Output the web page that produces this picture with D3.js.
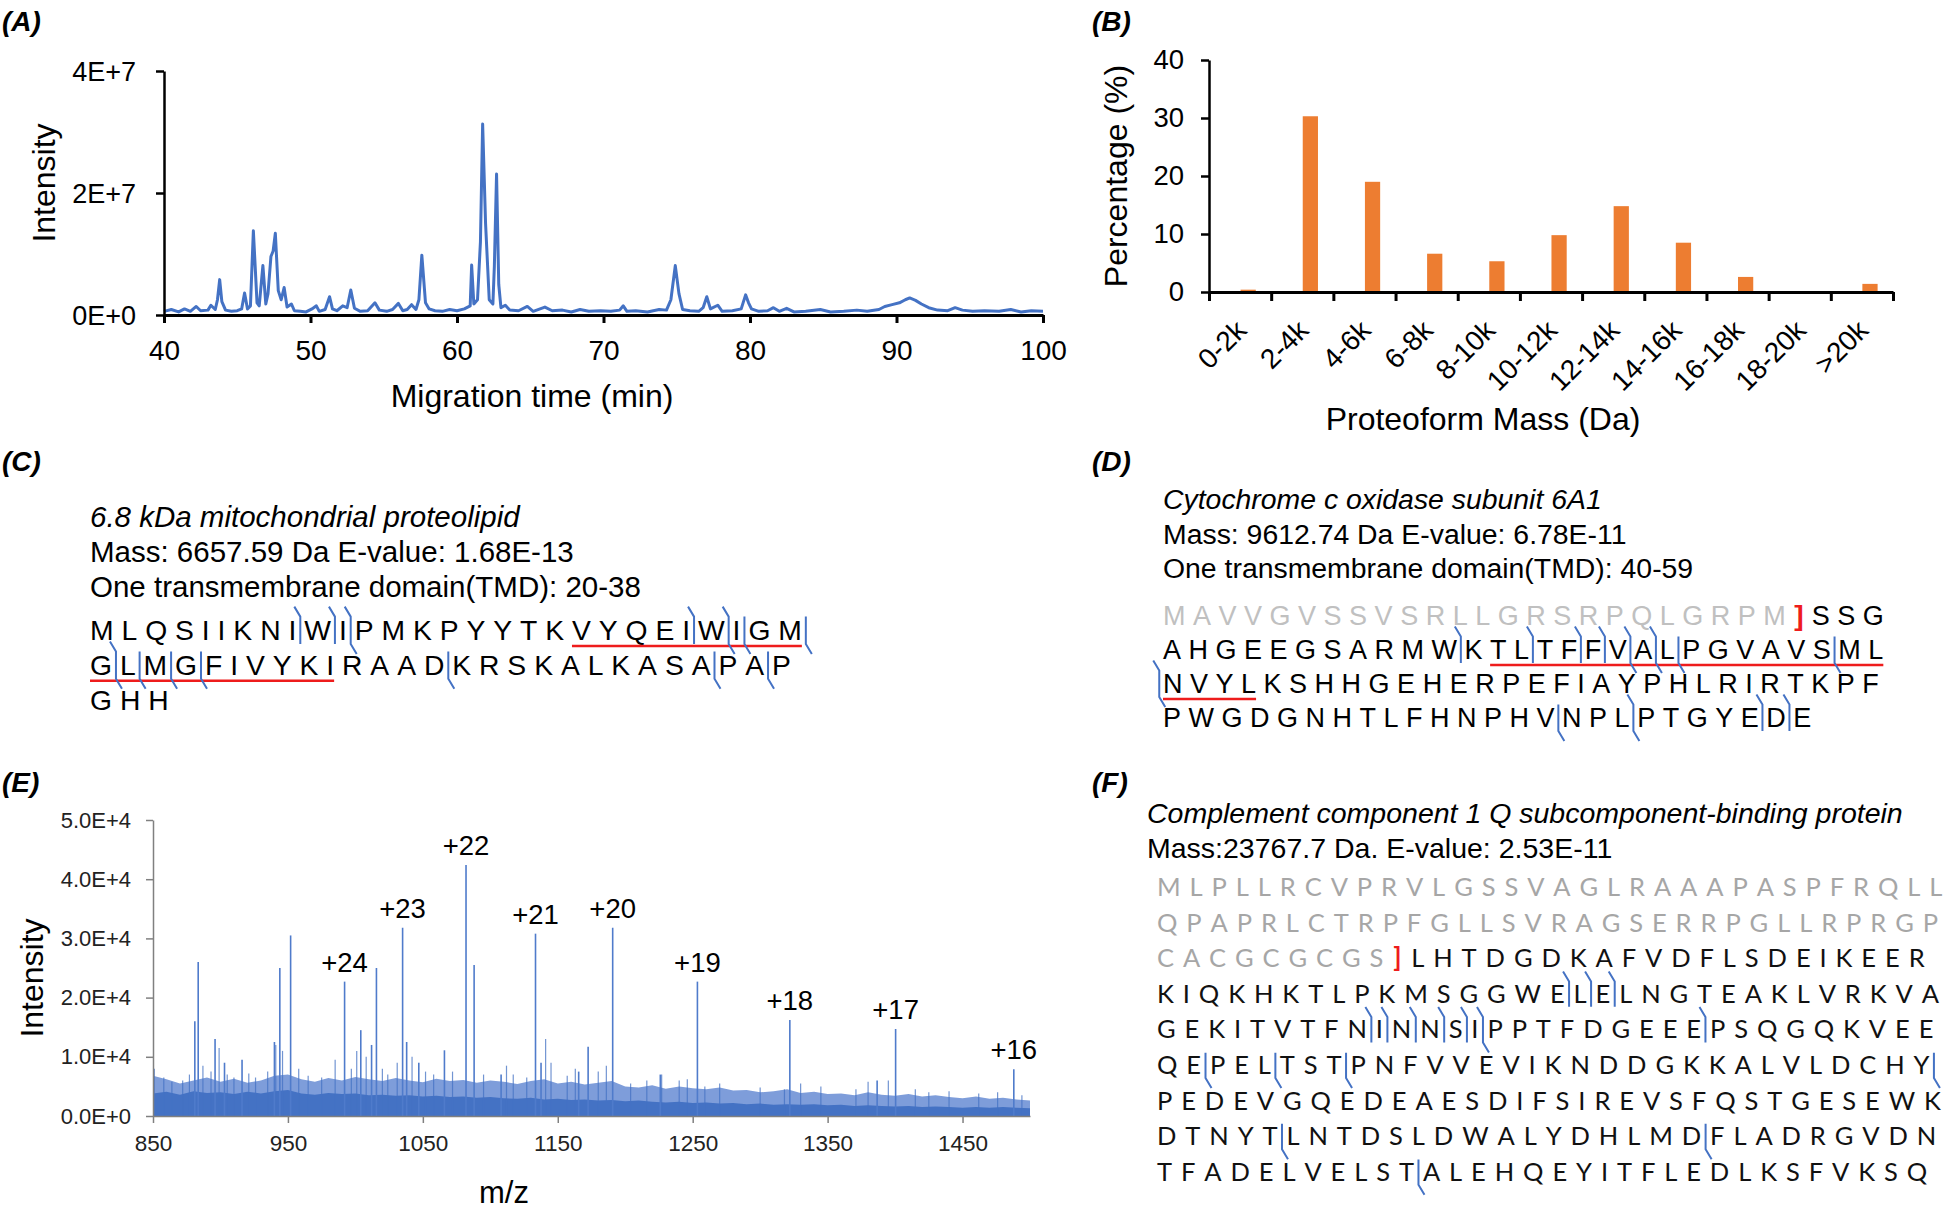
<!DOCTYPE html>
<html><head><meta charset="utf-8">
<script src="https://cdn.jsdelivr.net/npm/d3@7"></script>
<style>body{margin:0;background:#fff}svg{display:block}</style>
</head><body><svg id="c" width="1950" height="1212"></svg>
<script>
// ---------------- DATA ----------------
// (A) electropherogram: [migration time (min), intensity (x1e6)]
const aTrace = [[40,0.6],[40.5,0.9],[41,0.5],[41.4,1.0],[41.8,0.6],[42.2,1.4],[42.5,0.7],[43,0.8],[43.2,1.6],[43.5,0.9],[43.65,2.5],[43.8,5.8],[43.95,2.2],[44.2,0.8],[44.6,0.6],[45,0.7],[45.3,1.0],[45.5,3.6],[45.7,1.0],[45.9,1.5],[46.1,13.8],[46.35,2.0],[46.5,1.5],[46.75,8.1],[46.95,1.8],[47.1,3.5],[47.3,9.6],[47.45,10.5],[47.6,13.4],[47.8,4.0],[48.0,2.5],[48.2,4.5],[48.4,1.3],[48.7,1.8],[48.9,0.7],[49.3,0.6],[49.7,0.5],[50.1,1.0],[50.4,1.5],[50.6,0.6],[51,0.9],[51.3,3.0],[51.5,1.0],[51.8,0.7],[52.2,1.5],[52.5,1.2],[52.75,4.1],[53,1.1],[53.4,0.6],[53.9,0.7],[54.4,2.0],[54.7,0.8],[55.2,0.6],[55.6,0.9],[56,1.9],[56.3,0.7],[56.6,0.9],[56.9,1.7],[57.2,0.9],[57.4,2.5],[57.6,9.8],[57.85,2.0],[58.1,1.0],[58.5,0.7],[59,0.6],[59.5,0.9],[60,0.7],[60.5,1.0],[60.9,1.5],[61.0,8.2],[61.15,1.8],[61.4,2.5],[61.6,12],[61.75,31.3],[61.95,15],[62.2,2.5],[62.45,1.8],[62.55,8],[62.7,23.1],[62.85,5],[63.0,1.2],[63.3,1.6],[63.6,0.8],[64.2,0.7],[64.8,1.4],[65.2,0.6],[66,1.3],[66.5,0.7],[67.2,0.8],[67.8,0.5],[68.4,0.9],[69,0.6],[69.8,0.7],[70.5,0.6],[71.1,0.8],[71.35,1.5],[71.6,0.6],[72.2,0.7],[73,0.5],[73.8,0.9],[74.3,0.8],[74.6,2.5],[74.9,8.1],[75.15,3.5],[75.4,0.9],[75.9,0.7],[76.5,0.6],[76.8,1.2],[77.05,3.0],[77.3,1.0],[77.8,1.6],[78.1,0.6],[78.8,0.7],[79.4,1.0],[79.7,3.3],[79.9,2.0],[80.1,1.0],[80.6,0.6],[81.2,0.7],[81.6,1.2],[82,0.6],[82.5,1.1],[83,0.5],[83.8,0.6],[84.8,0.9],[85.5,0.5],[86.4,0.6],[87.3,0.8],[88,0.6],[88.8,0.9],[89.2,1.4],[89.7,1.7],[90.2,2.0],[90.6,2.5],[90.9,2.8],[91.3,2.4],[91.7,1.8],[92.2,1.2],[92.8,0.8],[93.5,0.7],[94,1.2],[94.5,0.8],[95.2,0.6],[96,0.7],[97,0.6],[97.8,0.9],[98.5,0.5],[99.2,0.7],[100,0.6]];
const aXTicks = [40,50,60,70,80,90,100];
const aYTicks = [0,2e7,4e7];
const aYLabels = ["0E+0","2E+7","4E+7"];

// (B) mass distribution
const massBins = ["0-2k","2-4k","4-6k","6-8k","8-10k","10-12k","12-14k","14-16k","16-18k","18-20k",">20k"];
const binPercent = [0.4,30.3,19.0,6.6,5.3,9.8,14.8,8.5,2.6,0,1.4];
const bYTicks = [0,10,20,30,40];

// (E) mass spectrum
const peakMz  = [881,883.5,896,903,916,940,944,952,992,1004,1012,1015.6,1035,1038,1047,1066,1082,1088,1108,1133.5,1137.6,1165.5,1172.5,1190.7,1226,1253.5,1322,1386.7,1400.4,1488];
const peakInt = [16000,26000,13000,9000,9500,12500,25000,30500,22700,14500,12000,25000,31800,12500,9000,11100,42400,25500,7000,30800,9000,7500,11700,31800,7000,22700,16200,6000,14700,7900];
const minorMz  = [851,858,864,872,877,887,893,899,905,910,921,926,935,941,946,958,965,975,985,997,1001,1008,1020,1024,1031,1042,1052,1058,1072,1095,1112,1117,1127,1141,1145,1157,1163,1180,1186,1204,1216,1227,1240,1246,1259,1270,1300,1318,1330,1345,1371,1380,1395,1415,1425,1440,1462,1476,1494];
const minorInt = [8000,6500,5800,6000,7000,8500,7500,11500,7000,6500,7200,6500,7500,12000,11000,8000,6800,6500,9500,8000,11000,10000,8000,7000,9000,10000,7500,7000,7500,7000,8500,7000,6500,13000,9000,6800,8000,7500,8500,5500,6000,7000,6000,6200,5000,5500,4800,4500,5500,5000,4500,5800,6000,4500,4000,4200,3800,4000,3500];
const noiseMz   = [850,860,870,880,890,900,910,920,930,940,950,960,970,980,990,1000,1010,1020,1030,1040,1050,1060,1070,1080,1090,1100,1110,1120,1130,1140,1150,1160,1170,1180,1190,1200,1210,1220,1230,1240,1250,1260,1270,1280,1290,1300,1310,1320,1330,1340,1350,1360,1370,1380,1390,1400,1410,1420,1430,1440,1450,1460,1470,1480,1490,1500];
const noiseTip  = [6.8,6.2,5.5,6.0,6.5,5.8,6.3,5.6,6.0,6.8,7.0,6.2,5.8,6.4,6.0,6.6,6.2,5.9,6.4,6.0,5.7,6.3,5.9,6.1,5.6,6.0,5.8,5.4,5.9,6.2,5.5,5.8,5.3,5.6,5.9,5.0,4.8,5.2,4.6,5.0,4.7,4.5,4.8,4.3,4.4,4.0,4.2,4.5,3.9,4.1,3.7,3.8,3.5,4.0,3.6,3.4,3.7,3.3,3.5,3.2,3.0,3.3,2.9,3.1,2.8,2.6];
const noiseCore = [3.8,4.1,3.6,4.2,3.9,4.0,3.7,4.1,3.8,4.2,4.4,3.8,3.6,3.9,3.7,3.8,3.5,3.6,3.4,3.5,3.3,3.4,3.2,3.3,3.1,3.2,3.0,2.9,3.1,2.8,2.9,2.7,2.8,2.6,2.7,2.5,2.6,2.4,2.3,2.4,2.2,2.3,2.1,2.2,2.0,2.1,1.9,2.0,1.9,2.0,1.8,1.9,1.7,1.8,1.7,1.6,1.7,1.5,1.6,1.5,1.4,1.5,1.4,1.5,1.4,1.3];
const chargeLabels = ["+24","+23","+22","+21","+20","+19","+18","+17","+16"];
const chargeMz     = [992,1035,1082,1133.5,1190.7,1253.5,1322,1400.4,1488];
const eXTicks = [850,950,1050,1150,1250,1350,1450];
const eYTicks = [0,1e4,2e4,3e4,4e4,5e4];
const eYLabels = ["0.0E+0","1.0E+4","2.0E+4","3.0E+4","4.0E+4","5.0E+4"];

// (C) sequence
const cHeader = ["6.8 kDa mitochondrial proteolipid","Mass: 6657.59 Da E-value: 1.68E-13","One transmembrane domain(TMD): 20-38"];
const cSeq = ["MLQSIIKNIWIPMKPYYTKVYQEIWIGM","GLMGFIVYKIRAADKRSKALKASAPAP","GHH"];
const cGray = [0,0,0];
const cMarks = [[0,8,"t"],[0,9,"t"],[0,10,"tb"],[0,23,"t"],[0,24,"tb"],[0,25,"b"],[0,27,"b"],[1,0,"tb"],[1,1,"b"],[1,2,"b"],[1,3,"b"],[1,13,"b"],[1,23,"b"],[1,25,"b"]];
const cTMD = [[0,19,27],[1,0,9]];

// (D) sequence
const dHeader = ["Cytochrome c oxidase subunit 6A1","Mass: 9612.74 Da E-value: 6.78E-11","One transmembrane domain(TMD): 40-59"];
const dSeq = ["MAVVGVSSVSRLLGRSRPQLGRPM]SSG","AHGEEGSARMWKTLTFFVALPGVAVSML","NVYLKSHHGEHERPEFIAYPHLRIRTKPF","PWGDGNHTLFHNPHVNPLPTGYEDE"];
const dGray = [24,0,0,0];
const dMarks = [[1,10,"t"],[1,13,"t"],[1,15,"t"],[1,16,"t"],[1,17,"tb"],[1,18,"tb"],[1,19,"b"],[1,25,"b"],[2,-1,"tb"],[3,14,"b"],[3,17,"tb"],[3,22,"t"],[3,23,"t"]];
const dTMD = [[1,12,27],[2,0,3]];

// (F) sequence
const fHeader = ["Complement component 1 Q subcomponent-binding protein","Mass:23767.7 Da. E-value: 2.53E-11"];
const fSeq = ["MLPLLRCVPRVLGSSVAGLRAAAPASPFRQLL","QPAPRLCTRPFGLLSVRAGSERRPGLLRPRGP","CACGCGCGS]LHTDGDKAFVDFLSDEIKEER","KIQKHKTLPKMSGGWELELNGTEAKLVRKVA","GEKITVTFNINNSIPPTFDGEEEPSQGQKVEE","QEPELTSTPNFVVEVIKNDDGKKALVLDCHY","PEDEVGQEDEAESDIFSIREVSFQSTGESEWK","DTNYTLNTDSLDWALYDHLMDFLADRGVDN","TFADELVELSTALEHQEYITFLEDLKSFVKSQ"];
const fGray = [32,32,9,0,0,0,0,0,0];
const fMarks = [[3,15,"t"],[3,16,"t"],[3,17,"t"],[4,8,"t"],[4,9,"t"],[4,10,"t"],[4,11,"t"],[4,12,"t"],[4,13,"tb"],[4,22,"t"],[5,1,"b"],[5,4,"b"],[5,7,"b"],[5,30,"b"],[7,4,"b"],[7,20,"b"],[8,10,"b"]];
const fTMD = [];

// ---------------- DRAW ----------------
const ARIAL = '"Liberation Sans", Arial, Helvetica, sans-serif';
const BLUE = "#4472C4", ORANGE = "#ED7D31", RED = "#EE1C1C";
const svg = d3.select("#c");
svg.append("rect").attr("width",1950).attr("height",1212).attr("fill","#fff");

function styleAxis(g, color, width, size, fill){
  g.select(".domain").attr("stroke",color).attr("stroke-width",width);
  g.selectAll(".tick line").attr("stroke",color).attr("stroke-width",width);
  g.selectAll(".tick text").attr("font-family",ARIAL).attr("font-size",size).attr("fill",fill);
}
function label(txt,x,y,size,opts={}){
  const t = svg.append("text").attr("x",x).attr("y",y).attr("font-family",opts.family||ARIAL)
    .attr("font-size",size).attr("fill",opts.fill||"#000").text(txt);
  if(opts.italic) t.attr("font-style","italic");
  if(opts.bold) t.attr("font-weight","bold");
  if(opts.anchor) t.attr("text-anchor",opts.anchor);
  if(opts.rotate) t.attr("transform",`rotate(-90,${x},${y})`);
  return t;
}

// panel letters
[["(A)",2,31],["(B)",1092,31],["(C)",2,471],["(D)",1092,471],["(E)",2,792],["(F)",1092,792]]
  .forEach(p=>label(p[0],p[1],p[2],28,{italic:true,bold:true}));

// ----- (A)
{
  const x = d3.scaleLinear().domain([40,100]).range([164,1043]);
  const y = d3.scaleLinear().domain([0,4e7]).range([315,71]);
  svg.append("path").datum(aTrace)
    .attr("d",d3.line().x(d=>x(d[0])).y(d=>y(d[1]*1e6)))
    .attr("fill","none").attr("stroke",BLUE).attr("stroke-width",3).attr("stroke-linejoin","round");
  const gx = svg.append("g").attr("transform","translate(0,315)")
    .call(d3.axisBottom(x).tickValues(aXTicks).tickFormat(d3.format("d")).tickSize(8).tickSizeOuter(0).tickPadding(17));
  styleAxis(gx,"#000",3,28,"#000");
  const gy = svg.append("g").attr("transform","translate(164,0)")
    .call(d3.axisLeft(y).tickValues(aYTicks).tickFormat((d,i)=>aYLabels[i]).tickSize(8).tickSizeOuter(0).tickPadding(20));
  styleAxis(gy,"#000",2.5,27,"#000");
  gy.selectAll(".tick text").attr("dy","0.36em");
  label("Migration time (min)",532,407,32,{anchor:"middle"});
  label("Intensity",55,183,32,{anchor:"middle",rotate:true});
}

// ----- (B)
{
  const x = d3.scaleBand().domain(massBins).range([1209,1893]);
  const xi = d3.scaleLinear().domain([0,massBins.length]).range([1209,1893]);
  const y = d3.scaleLinear().domain([0,40]).range([292,60]);
  const bw = x.bandwidth()*0.245;
  svg.append("g").selectAll("rect").data(massBins).join("rect")
    .attr("x",d=>x(d)+x.bandwidth()*0.63-bw/2).attr("width",bw)
    .attr("y",(d,i)=>y(binPercent[i])).attr("height",(d,i)=>y(0)-y(binPercent[i]))
    .attr("fill",ORANGE);
  const gx = svg.append("g").attr("transform","translate(0,292)")
    .call(d3.axisBottom(xi).tickValues(d3.range(massBins.length+1)).tickFormat("").tickSize(9).tickSizeOuter(0));
  styleAxis(gx,"#000",3,26,"#000");
  const gy = svg.append("g").attr("transform","translate(1209,0)")
    .call(d3.axisLeft(y).tickValues(bYTicks).tickSize(8).tickSizeOuter(0).tickPadding(17));
  styleAxis(gy,"#000",2.5,27.5,"#000");
  svg.append("g").selectAll("text").data(massBins).join("text")
    .attr("transform",d=>`translate(${x(d)+x.bandwidth()/2+8},${332}) rotate(-45)`)
    .attr("text-anchor","end").attr("font-family",ARIAL).attr("font-size",28).text(d=>d);
  label("Proteoform Mass (Da)",1483,430,32,{anchor:"middle"});
  label("Percentage (%)",1127,176,32,{anchor:"middle",rotate:true});
}

// ----- (E)
{
  const x = d3.scaleLinear().domain([850,1500]).range([153,1030]);
  const y = d3.scaleLinear().domain([0,5e4]).range([1116,820]);
  svg.append("path").datum(noiseMz)
    .attr("d",d3.area().x(d=>x(d)).y0(y(0)).y1((d,i)=>y(noiseTip[i]*1000)))
    .attr("fill","#7E9DDA");
  svg.append("path").datum(noiseMz)
    .attr("d",d3.area().x(d=>x(d)).y0(y(0)).y1((d,i)=>y(noiseCore[i]*1000)))
    .attr("fill",BLUE);
  svg.append("g").selectAll("line").data(minorMz).join("line")
    .attr("x1",d=>x(d)).attr("x2",d=>x(d)).attr("y1",y(0)).attr("y2",(d,i)=>y(minorInt[i]))
    .attr("stroke",BLUE).attr("stroke-width",1.2).attr("opacity",0.75);
  svg.append("g").selectAll("line").data(peakMz).join("line")
    .attr("x1",d=>x(d)).attr("x2",d=>x(d)).attr("y1",y(0)).attr("y2",(d,i)=>y(peakInt[i]))
    .attr("stroke","#4F7BCB").attr("stroke-width",1.6);
  svg.append("g").selectAll("text").data(chargeLabels).join("text")
    .attr("x",(d,i)=>x(chargeMz[i])).attr("y",(d,i)=>y(peakInt[peakMz.indexOf(chargeMz[i])])-10)
    .attr("text-anchor","middle").attr("font-family",ARIAL).attr("font-size",27.5).text(d=>d);
  const gx = svg.append("g").attr("transform","translate(0,1116)")
    .call(d3.axisBottom(x).tickValues(eXTicks).tickFormat(d3.format("d")).tickSize(7).tickSizeOuter(0).tickPadding(12));
  styleAxis(gx,"#808080",1.5,22.5,"#222");
  const gy = svg.append("g").attr("transform","translate(153,0)")
    .call(d3.axisLeft(y).tickValues(eYTicks).tickFormat((d,i)=>eYLabels[i]).tickSize(7).tickSizeOuter(0).tickPadding(15));
  styleAxis(gy,"#808080",1.5,22,"#222");
  label("m/z",504,1203,31,{anchor:"middle"});
  label("Intensity",43,978,32,{anchor:"middle",rotate:true});
}

// ----- sequence panels
function measurer(family,size,weight){
  const t = svg.append("text").attr("font-family",family).attr("font-size",size)
    .attr("font-weight",weight).attr("visibility","hidden");
  const cache = {};
  return ch => { if(!(ch in cache)){ t.text(ch); cache[ch]=t.node().getComputedTextLength(); } return cache[ch]; };
}
function seqPanel(o){
  o.header.forEach((h,i)=>label(h,o.hx,o.hy[i],o.hsize,{italic:i===0}));
  const m = measurer(o.family,o.size,"normal"), mb = measurer(o.family,o.size,"bold");
  const g = svg.append("g");
  const lay = o.lines.map((line,li)=>{
    let xx = o.x0; const items = [];
    [...line].forEach((ch,k)=>{
      const br = ch==="]";
      if(br) xx += o.brPad;
      const w = br ? mb(ch) : m(ch);
      items.push({ch,x:xx,w,br,color: br ? RED : (k < o.gray[li] ? o.grayColor : o.ink)});
      xx += w + o.gap + (br ? o.brPad : 0);
    });
    return items;
  });
  const base = li => o.y0 + li*o.dy;
  lay.forEach((items,li)=>{
    g.selectAll(null).data(items).join("text")
      .attr("x",d=>d.x).attr("y",base(li)).attr("font-family",o.family).attr("font-size",d=>d.br?o.size*1.05:o.size)
      .attr("font-weight",d=>d.br?"bold":"normal").attr("fill",d=>d.color).text(d=>d.ch);
  });
  g.selectAll(null).data(o.tmd).join("line")
    .attr("x1",d=>lay[d[0]][d[1]].x).attr("x2",d=>lay[d[0]][d[2]].x+lay[d[0]][d[2]].w)
    .attr("y1",d=>base(d[0])+6).attr("y2",d=>base(d[0])+6).attr("stroke",RED).attr("stroke-width",2.6);
  const cap = o.size*0.72;
  g.selectAll(null).data(o.marks).join("path")
    .attr("d",d=>{
      const it = lay[d[0]];
      const mx = d[1] < 0 ? it[0].x - o.gap/2 : it[d[1]].x + it[d[1]].w + o.gap/2;
      const top = base(d[0]) - cap - 3, bot = base(d[0]) + 4;
      let p = d[2].includes("t") ? `M${mx-6},${top-10}L${mx},${top}` : `M${mx},${top}`;
      p += `L${mx},${bot}`;
      if(d[2].includes("b")) p += `L${mx+6},${bot+10}`;
      return p;
    })
    .attr("fill","none").attr("stroke",BLUE).attr("stroke-width",2);
}
seqPanel({header:cHeader,hx:90,hy:[527,562,597],hsize:29.5,lines:cSeq,gray:cGray,marks:cMarks,tmd:cTMD,
  family:ARIAL,size:28.3,gap:7.9,brPad:4,x0:90,y0:640,dy:34.8,grayColor:"#BFBFBF",ink:"#000"});
seqPanel({header:dHeader,hx:1163,hy:[509,544,578],hsize:28.4,lines:dSeq,gray:dGray,marks:dMarks,tmd:dTMD,
  family:ARIAL,size:27,gap:7.5,brPad:1,x0:1163,y0:625,dy:34,grayColor:"#C0C0C0",ink:"#000"});
seqPanel({header:fHeader,hx:1147,hy:[823,858],hsize:28.5,lines:fSeq,gray:fGray,marks:fMarks,tmd:fTMD,
  family:"Lato, Carlito, sans-serif",size:25.5,gap:8.9,brPad:1,x0:1157,y0:896,dy:35.6,grayColor:"#A6A6A6",ink:"#111"});
</script></body></html>
